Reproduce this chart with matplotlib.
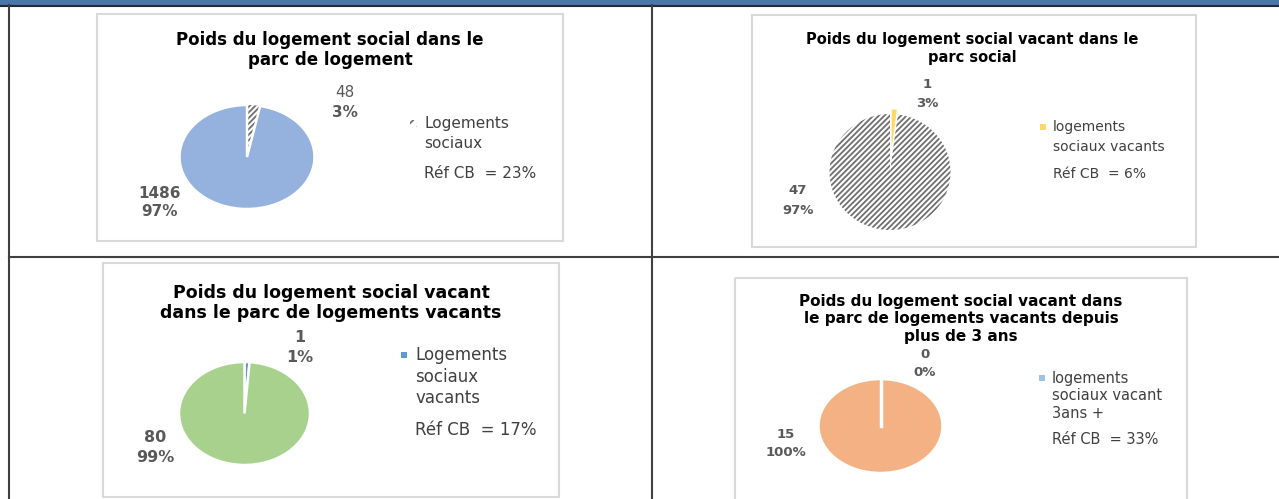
import matplotlib.pyplot as plt
from matplotlib.patches import Rectangle

plt.rcParams['font.family'] = ['DejaVu Sans']
plt.rcParams['hatch.linewidth'] = 1.3

W, H = 1279, 499

# data for the four pies: [logements sociaux, reste]
titles = [
    "Poids du logement social dans le\nparc de logement",
    "Poids du logement social vacant dans le\nparc social",
    "Poids du logement social vacant\ndans le parc de logements vacants",
    "Poids du logement social vacant dans\nle parc de logements vacants depuis\nplus de 3 ans",
]
values = [[48, 1486], [1, 47], [1, 80], [0, 15]]
pct_labels = [["3%", "97%"], ["3%", "97%"], ["1%", "99%"], ["0%", "100%"]]
legend_labels = [
    "Logements\nsociaux",
    "logements\nsociaux vacants",
    "Logements\nsociaux\nvacants",
    "logements\nsociaux vacant\n3ans +",
]
ref_cb = ["Réf CB  = 23%", "Réf CB  = 6%", "Réf CB  = 17%", "Réf CB  = 33%"]

# colors [small slice, big slice]; None = hatched
colors = [[None, "#95B1DD"], ["#FFD966", None], ["#5B9BD5", "#A9D18E"], ["#9DC3E6", "#F4B183"]]

# layout in pixels (x, y from top-left)
boxes = [(97, 14, 466, 227), (752, 15, 444, 232), (103, 263, 456, 234), (735, 278, 452, 230)]
pies = [(247, 157, 67.5, 52), (890, 172, 60.5, 58), (244.5, 413.5, 65.5, 51.5), (880.5, 426, 62, 47)]
title_pos = [(330, 50, 12, 1.15), (972, 48, 10.5, 1.25), (331, 303, 12.5, 1.15), (961, 319, 11, 1.2)]
small_lab = [(345, 92, 112), (927, 84, 103), (300, 338, 358), (925, 354, 372)]
big_lab = [(160, 193, 212), (798, 190, 210), (155, 438, 458), (786, 435, 453)]
lab_fs = [11, 9.5, 11.5, 9.5]
leg_pos = [(413, 424, 123, 20, 173, 11), (1043, 1053, 127, 20, 174, 10),
           (404, 415, 355, 21.5, 430, 12), (1042, 1052, 378, 17.5, 440, 10.5)]
explode = [[0, 0], [0.1, 0], [0, 0], [0, 0]]

fig = plt.figure(figsize=(W / 100, H / 100), dpi=100)
bg = fig.add_axes([0, 0, 1, 1])
bg.set_xlim(0, W)
bg.set_ylim(H, 0)
bg.axis('off')

# header bar and table grid
bg.add_patch(Rectangle((0, 0), W, 5, color="#4A76AA", lw=0))
bg.plot([0, W], [5.5, 5.5], color="#1F2A3A", lw=1.5)
bg.plot([9, 9], [5, H], color="#404040", lw=1.5)
bg.plot([652, 652], [5, H], color="#404040", lw=1.5)
bg.plot([9, W], [257, 257], color="#404040", lw=1.5)

grey = "#595959"
for i in range(4):
    bx, by, bw, bh = boxes[i]
    bg.add_patch(Rectangle((bx, by), bw, bh, fill=False, ec="#D9D9D9", lw=1.5))

    tx, ty, fs, ls = title_pos[i]
    bg.text(tx, ty, titles[i], ha='center', va='center', fontsize=fs, fontweight='bold',
            color="#000000", linespacing=ls)

    # data labels
    fsl = lab_fs[i]
    sx, sy1, sy2 = small_lab[i]
    lw_small = 'normal' if i == 0 else 'bold'
    bg.text(sx, sy1, str(values[i][0]), ha='center', va='center', fontsize=fsl,
            fontweight=lw_small, color=grey)
    bg.text(sx, sy2, pct_labels[i][0], ha='center', va='center', fontsize=fsl,
            fontweight='bold', color=grey)
    gx, gy1, gy2 = big_lab[i]
    bg.text(gx, gy1, str(values[i][1]), ha='center', va='center', fontsize=fsl,
            fontweight='bold', color=grey)
    bg.text(gx, gy2, pct_labels[i][1], ha='center', va='center', fontsize=fsl,
            fontweight='bold', color=grey)

    # legend
    mx, lx, ly, lsp, ry, lfs = leg_pos[i]
    mc = colors[i][0]
    if mc is None:
        bg.add_patch(Rectangle((mx - 3.5, ly - 3.5), 7, 7, fc="white", ec="#6F6F6F", lw=0, hatch="///"))
    else:
        bg.add_patch(Rectangle((mx - 3, ly - 3), 6, 6, fc=mc, ec="none"))
    for k, line in enumerate(legend_labels[i].split("\n")):
        bg.text(lx, ly + k * lsp, line, ha='left', va='center', fontsize=lfs, color="#404040")
    bg.text(lx, ry, ref_cb[i], ha='left', va='center', fontsize=lfs, color="#404040")

    # pie
    cx, cy, rx, ry_ = pies[i]
    ax = fig.add_axes([(cx - rx) / W, 1 - (cy + ry_) / H, 2 * rx / W, 2 * ry_ / H])
    fc = [c if c is not None else "white" for c in colors[i]]
    wedges, _ = ax.pie(values[i], colors=fc, startangle=90, counterclock=False,
                       explode=explode[i], radius=1,
                       wedgeprops=dict(edgecolor="white", linewidth=1.8))
    for w, c in zip(wedges, colors[i]):
        if c is None:
            w.set_hatch("//////")
            w.set_edgecolor("#6F6F6F")
            w.set_linewidth(0)
    if values[i][0] == 0:
        # empty slice: Excel still draws its border from the centre to the top
        ax.plot([0, 0], [0, 1], color="white", lw=2.5)
    ax.set_aspect('auto')
    ax.set_xlim(-1, 1)
    ax.set_ylim(-1, 1)
    ax.axis('off')

fig.savefig("out.png", dpi=100)
